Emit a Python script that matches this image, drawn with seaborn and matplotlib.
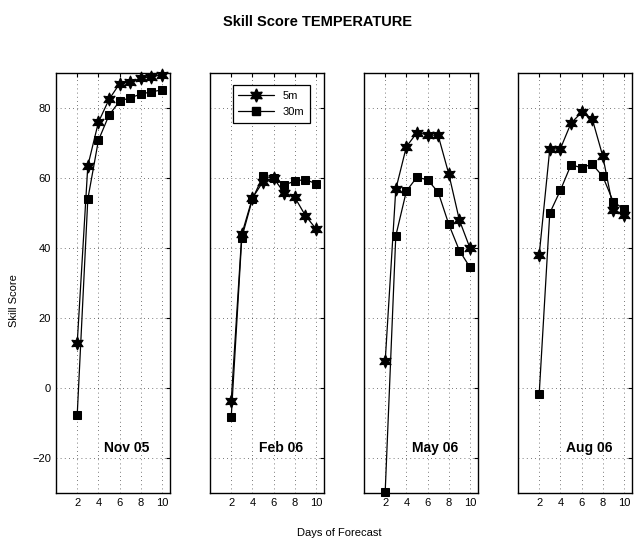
import numpy as np
import pandas as pd
import matplotlib
matplotlib.use('Agg')
import matplotlib.pyplot as plt
from matplotlib.lines import Line2D
import seaborn as sns

days = [2, 3, 4, 5, 6, 7, 8, 9, 10]
months = ['Nov 05', 'Feb 06', 'May 06', 'Aug 06']

skill_5m = {
    'Nov 05': [12.8, 63.5, 76.0, 82.5, 87.0, 87.5, 88.5, 89.0, 89.5],
    'Feb 06': [-3.8, 44.0, 54.3, 59.0, 60.0, 55.8, 54.5, 49.3, 45.5],
    'May 06': [7.6, 56.8, 69.0, 73.0, 72.4, 72.2, 61.2, 48.0, 40.0],
    'Aug 06': [38.0, 68.3, 68.4, 75.7, 78.8, 77.0, 66.3, 51.0, 49.5],
}
skill_30m = {
    'Nov 05': [-7.7, 54.0, 70.8, 78.0, 82.0, 83.0, 84.0, 84.7, 85.2],
    'Feb 06': [-8.4, 43.0, 54.0, 60.6, 60.0, 58.0, 59.2, 59.6, 58.4],
    'May 06': [-29.7, 43.5, 56.3, 60.3, 59.5, 56.0, 46.8, 39.3, 34.5],
    'Aug 06': [-1.8, 50.0, 56.5, 63.8, 63.0, 64.0, 60.5, 53.2, 51.2],
}

rows = []
for m in months:
    for d, v in zip(days, skill_5m[m]):
        rows.append({'month': m, 'day': d, 'score': v, 'depth': '5m'})
    for d, v in zip(days, skill_30m[m]):
        rows.append({'month': m, 'day': d, 'score': v, 'depth': '30m'})
df = pd.DataFrame(rows)

sns.set_theme(style='white')
plt.rcParams['font.family'] = ['Liberation Sans', 'DejaVu Sans']
plt.rcParams['text.color'] = 'black'

fig = plt.figure(figsize=(6.35, 5.41), dpi=100)
star = (6, 1, 0)

for i, m in enumerate(months):
    ax = fig.add_axes([0.0882 + i * 0.2425, 0.0887, 0.1803, 0.776])
    sub = df[df['month'] == m]
    sns.lineplot(data=sub, x='day', y='score', style='depth', ax=ax,
                 markers={'5m': star, '30m': 's'}, dashes=False,
                 color='black', linewidth=0.9, markeredgecolor='black',
                 legend=False, clip_on=False)
    for line in ax.lines:
        if line.get_marker() == 's':
            line.set_markersize(5.8)
        else:
            line.set_markersize(9.5)
    ax.set_xlim(0, 10.8)
    ax.set_ylim(-30, 90)
    ax.set_xticks([2, 4, 6, 8, 10])
    ax.set_yticks([-20, 0, 20, 40, 60, 80])
    ax.tick_params(direction='in', top=True, right=True, length=3,
                   labelsize=8, colors='black', width=0.8)
    ax.grid(True, linestyle=(0, (1, 4)), color='black', linewidth=0.6, alpha=0.7)
    for s in ax.spines.values():
        s.set_color('black')
        s.set_linewidth(1.0)
    ax.set_xlabel('')
    ax.set_ylabel('')
    if i > 0:
        ax.set_yticklabels([])
    else:
        ax.set_yticklabels(['\u221220', '0', '20', '40', '60', '80'])
    ax.text(6.7, -17, m, ha='center', va='center', fontsize=10,
            fontweight='bold', color='black')
    if i == 1:
        handles = [Line2D([], [], color='black', lw=0.9, marker=star, markersize=9.5),
                   Line2D([], [], color='black', lw=0.9, marker='s', markersize=5.8)]
        leg = ax.legend(handles, ['5m', '30m'], loc='upper left',
                        bbox_to_anchor=(0.15, 0.985), fontsize=8,
                        handlelength=3.2, fancybox=False, framealpha=1,
                        edgecolor='black', borderpad=0.5, labelspacing=0.6)
        leg.get_frame().set_linewidth(0.9)
        for t in leg.get_texts():
            t.set_color('black')

fig.text(0.5, 0.96, 'Skill Score TEMPERATURE', ha='center', va='center',
         fontsize=10.5, fontweight='bold', color='black')
fig.text(0.535, 0.015, 'Days of Forecast', ha='center', va='center',
         fontsize=8, color='black')
fig.text(0.022, 0.445, 'Skill Score', ha='center', va='center', fontsize=8,
         rotation=90, color='black')

fig.savefig('out.png', dpi=100)
